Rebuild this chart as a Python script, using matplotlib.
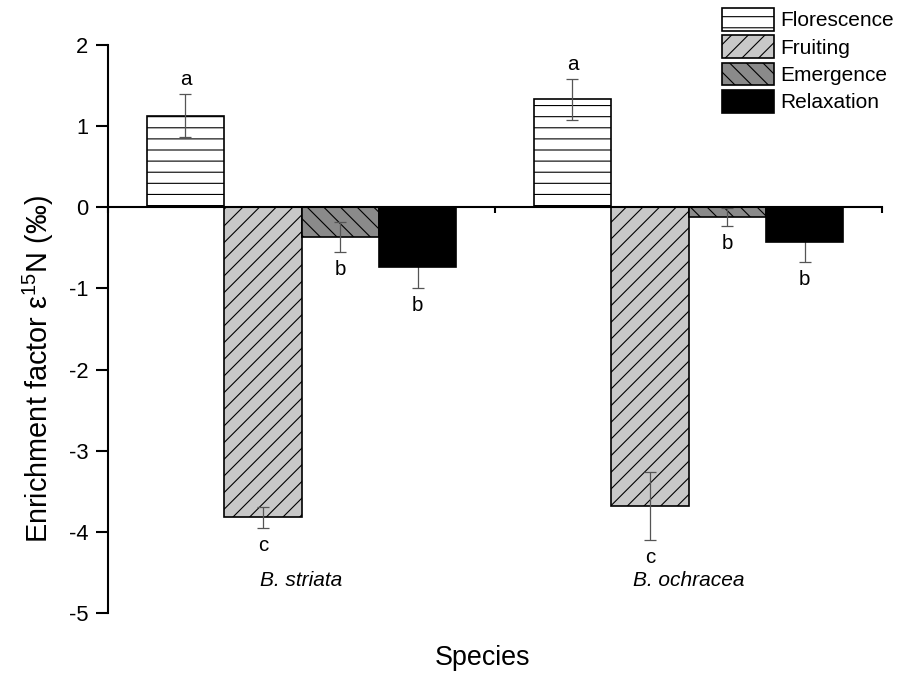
import matplotlib
matplotlib.use('Agg')
import matplotlib.pyplot as plt
import numpy as np

# data
species = ['B. striata', 'B. ochracea']
stages = ['Florescence', 'Fruiting', 'Emergence', 'Relaxation']
means = {
    'Florescence': [1.13, 1.33],
    'Fruiting': [-3.82, -3.68],
    'Emergence': [-0.37, -0.12],
    'Relaxation': [-0.74, -0.43],
}
errs = {
    'Florescence': [0.26, 0.25],
    'Fruiting': [0.13, 0.42],
    'Emergence': [0.185, 0.11],
    'Relaxation': [0.25, 0.24],
}
letters = {
    'Florescence': ['a', 'a'],
    'Fruiting': ['c', 'c'],
    'Emergence': ['b', 'b'],
    'Relaxation': ['b', 'b'],
}

faces = {'Florescence': 'white', 'Fruiting': '#c8c8c8', 'Emergence': '#8a8a8a', 'Relaxation': 'black'}
hatches = {'Florescence': '---', 'Fruiting': '////', 'Emergence': '\\\\\\\\', 'Relaxation': None}

DPI = 200
plt.rcParams['font.family'] = ['Liberation Sans', 'DejaVu Sans']
plt.rcParams['mathtext.fontset'] = 'custom'
plt.rcParams['mathtext.rm'] = 'Liberation Sans'
plt.rcParams['axes.unicode_minus'] = False
plt.rcParams['hatch.linewidth'] = 0.4
plt.rcParams['hatch.color'] = '#222222'

fig = plt.figure(figsize=(910 / DPI, 677 / DPI), dpi=DPI)
ax = fig.add_axes([108 / 910, 1 - 613 / 677, (882 - 108) / 910, (613 - 45) / 677])

x = np.arange(1, len(species) + 1)
w = 0.2
handles = []
for i, st in enumerate(stages):
    pos = x + (i - 1.5) * w
    b = ax.bar(pos, means[st], w, color=faces[st], edgecolor='black', linewidth=0.6,
               hatch=hatches[st], label=st, zorder=2)
    handles.append(b)
    ez = 1 if st == 'Relaxation' else 3
    ax.errorbar(pos, means[st], yerr=errs[st], fmt='none', ecolor='#555555',
                elinewidth=0.45, capsize=2.2, capthick=0.45, zorder=ez)
    for p, m, e, lt in zip(pos, means[st], errs[st], letters[st]):
        if m > 0:
            ax.annotate(lt, (p, m + e), xytext=(0, 5), textcoords='offset pixels',
                        ha='center', va='bottom', fontsize=7.4)
        else:
            ax.annotate(lt, (p, m - e), xytext=(0, -8), textcoords='offset pixels',
                        ha='center', va='top', fontsize=7.4)

ax.set_xlim(0.5, 2.5)
ax.set_ylim(-5, 2)
ax.set_yticks(np.arange(-5, 3, 1))
ax.set_xticks([0.5, 1.5, 2.5])
ax.set_xticklabels([])
ax.spines['top'].set_visible(False)
ax.spines['right'].set_visible(False)
ax.spines['bottom'].set_position(('data', 0))
ax.spines['left'].set_linewidth(0.75)
ax.spines['bottom'].set_linewidth(0.75)
ax.spines['bottom'].set_zorder(4)
ax.tick_params(axis='y', direction='out', length=4.3, width=0.75, pad=2.8, labelsize=7.9)
ax.tick_params(axis='x', direction='out', length=2.2, width=0.75)

for xi, sp in zip(x, species):
    ax.text(xi, -4.6, sp, ha='center', va='center', fontsize=7.5, style='italic')

ax.set_ylabel('Enrichment factor \u03b5$^{15}$N (\u2030)', fontsize=10.4)
ax.yaxis.set_label_coords(-0.067, 0.43)
fig.text(482 / 910, 1 - 658 / 677, 'Species', ha='center', va='center', fontsize=9.7)

fig.legend(handles=handles, labels=stages, loc='upper left',
           bbox_to_anchor=(722 / 910, 1 - 8 / 677), frameon=False, fontsize=7.5,
           handlelength=2.5, handleheight=1.3, labelspacing=0.22, handletextpad=0.3,
           borderpad=0, borderaxespad=0)

fig.savefig('out.png', dpi=DPI)
